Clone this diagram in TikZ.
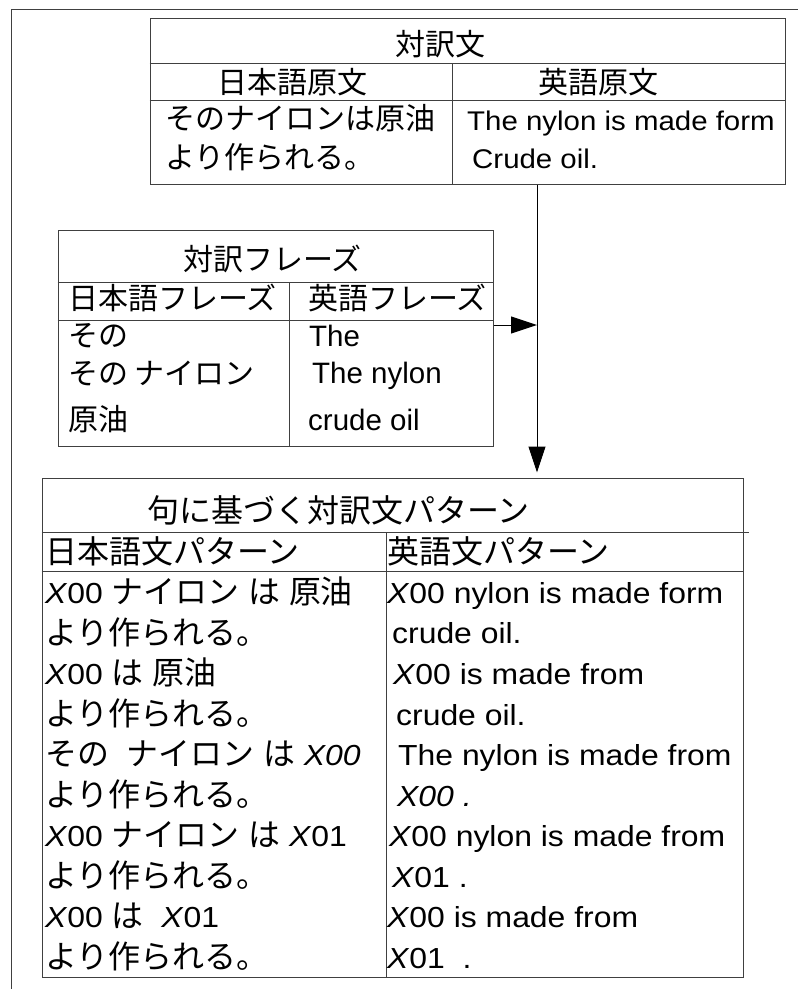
\documentclass[tikz,border=0pt]{standalone}
\usepackage{fontspec}
\setmainfont{Liberation Sans}
\newfontfamily\jpfont{Noto Sans CJK JP}
\newfontfamily\jpbfont[Scale=1.1]{Noto Sans CJK JP}
\newfontfamily\latafont[FakeStretch=1.09]{Liberation Sans}
\newfontfamily\latcfont[FakeStretch=1.1]{Liberation Sans}
\usetikzlibrary{arrows.meta, positioning}
\newcommand{\ja}[1]{{\jpbfont #1}}
\tikzset{
  tablebox/.style = {draw=black!75, line width=1pt, inner sep=0pt},
  rule/.style = {draw=black!75, line width=1pt},
  arrow/.style = {line width=1pt, -{Triangle[length=26pt,width=17pt]}},
  jtop/.style = {font=\jpfont\fontsize{30}{36}\selectfont, inner sep=0pt, anchor=base west},
  etop/.style = {font=\latafont\fontsize{27}{32}\selectfont, inner sep=0pt, anchor=base west},
  jmid/.style = {font=\jpfont\fontsize{30}{36}\selectfont, inner sep=0pt, anchor=base west},
  emid/.style = {font=\fontsize{29.5}{35}\selectfont, inner sep=0pt, anchor=base west},
  jbot/.style = {font=\jpfont\fontsize{32}{38}\selectfont, inner sep=0pt, anchor=base west},
  ebot/.style = {font=\latcfont\fontsize{29}{35}\selectfont, inner sep=0pt, anchor=base west}
}

\begin{document}
\begin{tikzpicture}[x=1pt, y=-1pt]
  \useasboundingbox (0,0) rectangle (798,989);

  % outer frame (only top and left edges show)
  \draw[black!75, line width=1pt] (798,9) -- (11,9) -- (11,989);

  % sentence pair table
  \node[tablebox, minimum width=635pt, minimum height=166pt] (pair) at (467.5,101) {};
  \draw[rule] (pair.west |- 0,63) -- (pair.east |- 0,63);
  \draw[rule] (pair.west |- 0,100) -- (pair.east |- 0,100);
  \draw[rule] (452,63) -- (pair.south -| 452,0);
  \node[jtop] (pairtitle) at (395,55) {対訳文};
  \node[jtop] (pairjahead) at (217,93) {日本語原文};
  \node[jtop] (pairenhead) at (538,93) {英語原文};
  \node[jtop] (pairja1) at (165,129) {そのナイロンは原油};
  \node[jtop] (pairja2) at (165,168) {より作られる。};
  \node[etop] (pairen1) at (467,130) {The nylon is made form};
  \node[etop] (pairen2) at (472,168) {Crude oil.};

  % phrase table
  \node[tablebox, minimum width=435pt, minimum height=216pt] (phrase) at (275.5,338) {};
  \draw[rule] (phrase.west |- 0,282) -- (phrase.east |- 0,282);
  \draw[rule] (phrase.west |- 0,320) -- (phrase.east |- 0,320);
  \draw[rule] (289,282) -- (phrase.south -| 289,0);
  \node[jmid] (phrasetitle) at (183,270) {対訳フレーズ};
  \node[jmid] (phrasejahead) at (68,309) {日本語フレーズ};
  \node[jmid] (phraseenhead) at (308,309) {英語フレーズ};
  \node[jmid] (phraseja1) at (68,346) {その};
  \node[jmid] (phraseja2) at (68,384) {その ナイロン};
  \node[jmid] (phraseja3) at (68,430) {原油};
  \node[emid] (phraseen1) at (309,346) {The};
  \node[emid] (phraseen2) at (312,383) {The nylon};
  \node[emid] (phraseen3) at (308,430) {crude oil};

  % pattern table
  \node[tablebox, minimum width=701pt, minimum height=499pt] (pattern) at (392.5,727.5) {};
  \draw[rule] (pattern.west |- 0,532) -- (749,532);
  \draw[rule] (pattern.west |- 0,571) -- (pattern.east |- 0,571);
  \draw[rule] (386,532) -- (pattern.south -| 386,0);
  \node[jbot] (pattitle) at (147,522) {句に基づく対訳文パターン};
  \node[jbot] (patjahead) at (45,563) {日本語文パターン};
  \node[jbot] (patenhead) at (387,563) {英語文パターン};

  \node[ebot] (patja1) at (45,603) {\textit{X}00 \ja{ナイロン} \ja{は} \ja{原油}};
  \node[jbot] (patja2) at (45,644) {より作られる。};
  \node[ebot] (patja3) at (45,684) {\textit{X}00 \ja{は} \ja{原油}};
  \node[jbot] (patja4) at (45,725) {より作られる。};
  \node[ebot] (patja5) at (45,765) {\ja{その}\ \ \ja{ナイロン} \ja{は} \textit{X00}};
  \node[jbot] (patja6) at (45,806) {より作られる。};
  \node[ebot] (patja7) at (45,846) {\textit{X}00 \ja{ナイロン} \ja{は} \textit{X}01};
  \node[jbot] (patja8) at (45,887) {より作られる。};
  \node[ebot] (patja9) at (45,927) {\textit{X}00 \ja{は}\ \ \textit{X}01};
  \node[jbot] (patja10) at (45,968) {より作られる。};

  \node[ebot] (paten1) at (387,603) {\textit{X}00 nylon is made form};
  \node[ebot] (paten2) at (392,643) {crude oil.};
  \node[ebot] (paten3) at (393,684) {\textit{X}00 is made from};
  \node[ebot] (paten4) at (396,725) {crude oil.};
  \node[ebot] (paten5) at (398,765) {The nylon is made from};
  \node[ebot] (paten6) at (397,806) {\textit{X00 .}};
  \node[ebot] (paten7) at (389,846) {\textit{X}00 nylon is made from};
  \node[ebot] (paten8) at (392,887) {\textit{X}01 .};
  \node[ebot] (paten9) at (387,927) {\textit{X}00 is made from};
  \node[ebot] (paten10) at (387,968) {\textit{X}01\ \ .};

  % connectors
  \coordinate (join) at (537,325);
  \draw[arrow] (phrase.east |- join) -- (join);
  \draw[arrow, shorten >=5pt] (pair.south -| join) -- (pattern.north -| join);
\end{tikzpicture}
\end{document}
